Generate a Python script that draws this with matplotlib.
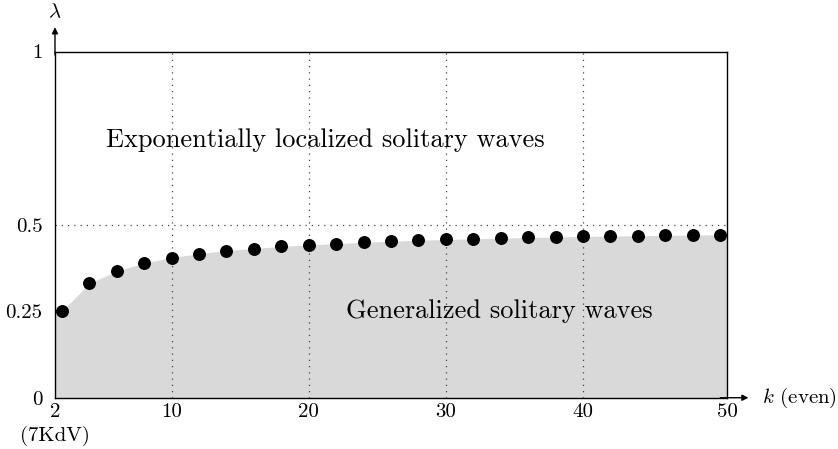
import matplotlib
matplotlib.use('Agg')
import matplotlib.pyplot as plt
import numpy as np

plt.rcParams['font.family'] = 'cmr10'
plt.rcParams['mathtext.fontset'] = 'cm'
plt.rcParams['axes.formatter.use_mathtext'] = True

# values
k = [2, 4, 6, 8, 10, 12, 14, 16, 18, 20, 22, 24, 26,
     28, 30, 32, 34, 36, 38, 40, 42, 44, 46, 48, 50]
lam = [0.250, 0.330, 0.366, 0.389, 0.405, 0.416, 0.425, 0.431, 0.437,
       0.442, 0.445, 0.449, 0.452, 0.455, 0.457, 0.459, 0.461, 0.463,
       0.464, 0.466, 0.467, 0.468, 0.469, 0.470, 0.471]

xlo, xhi = 1.5, 50.5
grid_x = [10, 20, 30, 40]
xtick_labels = ['2', '10', '20', '30', '40', '50']
ytick_vals = [0, 0.25, 0.5, 1]
ytick_labels = ['0', '0.25', '0.5', '1']

fig = plt.figure(figsize=(8.38, 4.49), dpi=100)
ax = fig.add_axes([0.0656, 0.1142, 0.8019, 0.7711])

# shaded region below the curve
fx = np.r_[xlo, k, xhi]
fy = np.r_[lam[0], lam, lam[-1]]
ax.fill_between(fx, 0, fy, color='#d9d9d9', lw=0, zorder=1)

for gx in grid_x:
    ax.plot([gx, gx], [0, 1], color='#444444', ls=(0, (1, 4)), lw=0.9, zorder=2)
ax.plot([xlo, xhi], [0.5, 0.5], color='#444444', ls=(0, (1, 4)), lw=0.9, zorder=2)

ax.plot(k, lam, 'o', color='black', ms=8.3, zorder=3)

ax.set_xlim(xlo, xhi)
ax.set_ylim(0, 1)
ax.set_xticks([xlo] + grid_x + [xhi])
ax.set_xticklabels(xtick_labels)
ax.set_yticks(ytick_vals)
ax.set_yticklabels(ytick_labels)
ax.tick_params(length=0, labelsize=15, pad=4)
ax.tick_params(axis='y', pad=9)
for s in ax.spines.values():
    s.set_linewidth(1.0)

ax.annotate('', xy=(0, 1.07), xytext=(0, 0.99), xycoords='axes fraction',
            arrowprops=dict(arrowstyle='-|>', color='black', lw=1.0,
                            mutation_scale=9, shrinkA=0, shrinkB=0))
ax.annotate('', xy=(1.032, 0), xytext=(0.99, 0), xycoords='axes fraction',
            arrowprops=dict(arrowstyle='-|>', color='black', lw=1.0,
                            mutation_scale=9, shrinkA=0, shrinkB=0))
ax.text(0, 1.114, r'$\lambda$', transform=ax.transAxes, ha='center', va='center', fontsize=15)
ax.text(1.052, 0, r'$k$ (even)', transform=ax.transAxes, ha='left', va='center', fontsize=15)
ax.text(0, -0.11, '(7KdV)', transform=ax.transAxes, ha='center', va='center', fontsize=15)

ax.text(21.2, 0.743, 'Exponentially localized solitary waves', ha='center', va='center', fontsize=19)
ax.text(33.9, 0.25, 'Generalized solitary waves', ha='center', va='center', fontsize=19)

fig.savefig('out.png', dpi=100)
